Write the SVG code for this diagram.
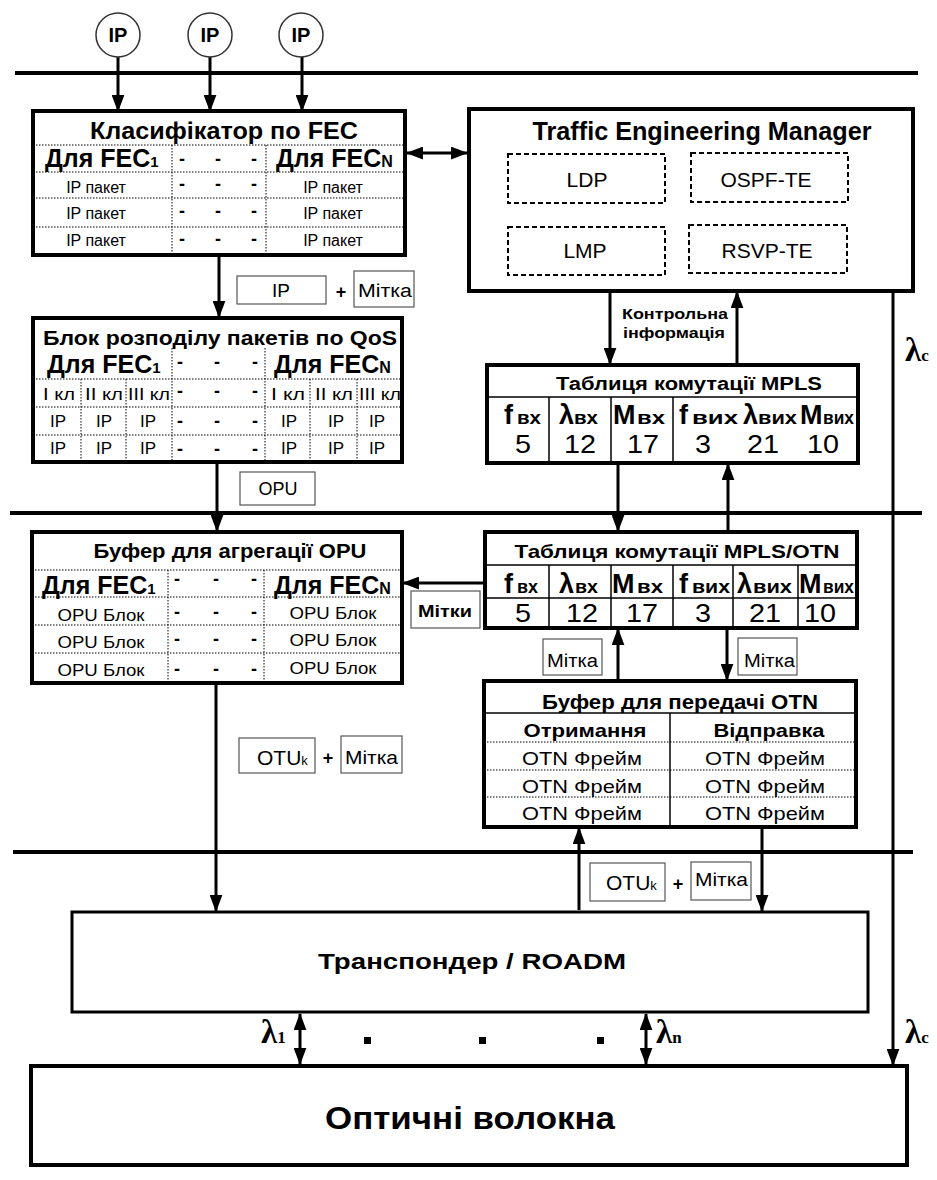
<svg xmlns="http://www.w3.org/2000/svg" width="937" height="1180" viewBox="0 0 937 1180">
<defs>
<marker id="ah" viewBox="0 0 16 12" refX="15" refY="6" markerWidth="17" markerHeight="13" markerUnits="userSpaceOnUse" orient="auto-start-reverse"><path d="M0,0 L16,6 L0,12 z" fill="#000"/></marker>
</defs>
<style>
.t{font-family:"Liberation Sans",Arial,sans-serif;fill:#000}
.b{font-weight:bold}
.c{text-anchor:middle}
.blk{fill:#fff;stroke:none}
.fr{fill:none;stroke:#000;stroke-width:4}
.dt{stroke:#000;stroke-width:1;stroke-dasharray:1.5 1.5;fill:none}
.sl{stroke:#000;stroke-width:1.5;fill:none}
.dash{fill:#fff;stroke:#000;stroke-width:2;stroke-dasharray:5 3}
.bus{stroke:#000;stroke-width:4}
.ar{stroke:#000;stroke-width:3;fill:none;marker-end:url(#ah)}
.ar2{stroke:#000;stroke-width:3;fill:none;marker-end:url(#ah);marker-start:url(#ah)}
.lb{fill:#fff;stroke:#555;stroke-width:1.2}
.lam{font-family:"Liberation Serif","Times New Roman",serif;font-weight:bold;fill:#000}
.ip{fill:#fff;stroke:#333;stroke-width:1.5}
.fec{font-family:"Liberation Sans",Arial,sans-serif;font-weight:bold;font-size:25px;fill:#000}
.hm{font-family:"Liberation Sans",Arial,sans-serif;font-weight:bold;font-size:27px;fill:#000}
.hs{font-family:"Liberation Sans",Arial,sans-serif;font-weight:bold;font-size:18px;fill:#000}
.num{font-family:"Liberation Sans",Arial,sans-serif;font-size:25px;text-anchor:middle;fill:#000}
</style>
<rect width="937" height="1180" fill="#fff"/>

<g id="buses">
<line class="bus" x1="15" y1="73" x2="918" y2="73"/>
<line class="bus" x1="10" y1="513" x2="922" y2="513"/>
<line class="bus" x1="13" y1="852" x2="913" y2="852"/>
</g>

<g id="connectors">
<line class="ar" x1="118" y1="57" x2="118" y2="111"/>
<line class="ar" x1="210" y1="57" x2="210" y2="111"/>
<line class="ar" x1="302" y1="57" x2="302" y2="111"/>
<line class="ar2" x1="407" y1="153" x2="467" y2="153"/>
<line class="ar" x1="219" y1="257" x2="219" y2="317"/>
<line class="ar" x1="217" y1="464" x2="217" y2="531"/>
<line class="ar" x1="216" y1="685" x2="216" y2="911"/>
<line class="ar" x1="610" y1="293" x2="610" y2="364"/>
<line class="ar" x1="737" y1="363" x2="737" y2="292"/>
<line class="ar" x1="618" y1="465" x2="618" y2="531"/>
<line class="ar" x1="728" y1="530" x2="728" y2="464"/>
<line class="ar" x1="485" y1="583" x2="403" y2="583"/>
<line class="ar" x1="618" y1="679" x2="618" y2="629"/>
<line class="ar" x1="727" y1="630" x2="727" y2="680"/>
<line class="ar" x1="579" y1="910" x2="579" y2="828"/>
<line class="ar" x1="762" y1="829" x2="762" y2="911"/>
<line class="ar" x1="893" y1="293" x2="893" y2="1065"/>
<line class="ar2" x1="300" y1="1014" x2="300" y2="1064"/>
<line class="ar2" x1="646" y1="1014" x2="646" y2="1064"/>
</g>

<g id="ip1"><circle class="ip" cx="118" cy="35" r="22"/><text class="t b c" x="118" y="42" font-size="20">IP</text></g>
<g id="ip2"><circle class="ip" cx="210" cy="35" r="22"/><text class="t b c" x="210" y="42" font-size="20">IP</text></g>
<g id="ip3"><circle class="ip" cx="301" cy="35" r="22"/><text class="t b c" x="301" y="42" font-size="20">IP</text></g>

<g id="classifier">
<rect class="blk" x="33" y="111" width="372" height="144"/>
<text class="t b c" x="224" y="139" font-size="24" textLength="268" lengthAdjust="spacingAndGlyphs">Класифікатор по FEC</text>
<line class="dt" x1="33" y1="145" x2="405" y2="145"/>
<line class="dt" x1="33" y1="172" x2="405" y2="172"/>
<line class="dt" x1="33" y1="198" x2="405" y2="198"/>
<line class="dt" x1="33" y1="227" x2="405" y2="227"/>
<line class="dt" x1="172" y1="145" x2="172" y2="255"/>
<line class="dt" x1="266" y1="145" x2="266" y2="255"/>
<text class="fec" x="45" y="167">Для FEC<tspan font-size="15">1</tspan></text>
<text class="fec" x="276" y="167">Для FEC<tspan font-size="16">N</tspan></text>
<g class="t b c" font-size="18">
<text x="182" y="165">-</text><text x="218" y="165">-</text><text x="254" y="165">-</text>
<text x="182" y="190">-</text><text x="218" y="190">-</text><text x="254" y="190">-</text>
<text x="182" y="217">-</text><text x="218" y="217">-</text><text x="254" y="217">-</text>
<text x="182" y="245">-</text><text x="218" y="245">-</text><text x="254" y="245">-</text>
</g>
<g class="t c" font-size="16">
<text x="96" y="193">IP пакет</text><text x="333" y="193">IP пакет</text>
<text x="96" y="219">IP пакет</text><text x="333" y="219">IP пакет</text>
<text x="96" y="246">IP пакет</text><text x="333" y="246">IP пакет</text>
</g>
<rect class="fr" x="33" y="111" width="372" height="144"/>
</g>

<g id="tem">
<rect class="blk" x="469" y="109" width="444" height="182"/>
<text class="t b c" x="702" y="140" font-size="25" textLength="339" lengthAdjust="spacingAndGlyphs">Traffic Engineering Manager</text>
<rect class="dash" x="508" y="154" width="157" height="49"/>
<rect class="dash" x="691" y="153" width="157" height="49"/>
<rect class="dash" x="508" y="227" width="157" height="48"/>
<rect class="dash" x="689" y="225" width="158" height="48"/>
<g class="t c" font-size="21">
<text x="587" y="187">LDP</text>
<text x="766" y="187">OSPF-TE</text>
<text x="585" y="258">LMP</text>
<text x="767" y="258">RSVP-TE</text>
</g>
<rect class="fr" x="469" y="109" width="444" height="182"/>
</g>

<g id="ctrl-label" class="t b" font-size="15">
<text x="622" y="319" textLength="106" lengthAdjust="spacingAndGlyphs">Контрольна</text>
<text x="623" y="338" textLength="102" lengthAdjust="spacingAndGlyphs">інформація</text>
</g>

<g id="lbl-ip">
<rect class="lb" x="237" y="276" width="89" height="28"/>
<text class="t c" x="281" y="297" font-size="19">IP</text>
<text class="t b c" x="341" y="298" font-size="18">+</text>
<rect class="lb" x="354" y="271" width="60" height="36"/>
<text class="t" x="358" y="297" font-size="18" textLength="54" lengthAdjust="spacingAndGlyphs">Мітка</text>
</g>

<g id="qos">
<rect class="blk" x="33" y="318" width="369" height="144"/>
<text class="t b" x="43" y="345" font-size="21" textLength="354" lengthAdjust="spacingAndGlyphs">Блок розподілу пакетів по QoS</text>
<line class="dt" x1="33" y1="379" x2="402" y2="379"/>
<line class="dt" x1="33" y1="407" x2="402" y2="407"/>
<line class="dt" x1="33" y1="435" x2="402" y2="435"/>
<line class="dt" x1="172" y1="348" x2="172" y2="462"/>
<line class="dt" x1="265" y1="348" x2="265" y2="462"/>
<line class="dt" x1="81" y1="379" x2="81" y2="462"/>
<line class="dt" x1="126" y1="379" x2="126" y2="462"/>
<line class="dt" x1="310" y1="379" x2="310" y2="462"/>
<line class="dt" x1="357" y1="379" x2="357" y2="462"/>
<text class="fec" x="47" y="373">Для FEC<tspan font-size="15">1</tspan></text>
<text class="fec" x="274" y="373">Для FEC<tspan font-size="16">N</tspan></text>
<g class="t b c" font-size="18">
<text x="180" y="368">-</text><text x="217" y="368">-</text><text x="255" y="368">-</text>
<text x="180" y="397">-</text><text x="217" y="397">-</text><text x="255" y="397">-</text>
<text x="180" y="427">-</text><text x="217" y="427">-</text><text x="255" y="427">-</text>
<text x="180" y="455">-</text><text x="217" y="455">-</text><text x="255" y="455">-</text>
</g>
<g class="t c" font-size="17">
<text x="59" y="400" textLength="32" lengthAdjust="spacingAndGlyphs">І кл</text>
<text x="104" y="400" textLength="38" lengthAdjust="spacingAndGlyphs">ІІ кл</text>
<text x="149" y="400" textLength="42" lengthAdjust="spacingAndGlyphs">ІІІ кл</text>
<text x="288" y="400" textLength="34" lengthAdjust="spacingAndGlyphs">І кл</text>
<text x="334" y="400" textLength="38" lengthAdjust="spacingAndGlyphs">ІІ кл</text>
<text x="380" y="400" textLength="42" lengthAdjust="spacingAndGlyphs">ІІІ кл</text>
<text x="58" y="427">IP</text><text x="104" y="427">IP</text><text x="148" y="427">IP</text>
<text x="289" y="427">IP</text><text x="336" y="427">IP</text><text x="377" y="427">IP</text>
<text x="58" y="454">IP</text><text x="104" y="454">IP</text><text x="148" y="454">IP</text>
<text x="289" y="454">IP</text><text x="336" y="454">IP</text><text x="377" y="454">IP</text>
</g>
<rect class="fr" x="33" y="318" width="369" height="144"/>
</g>

<g id="lbl-opu">
<rect class="lb" x="240" y="472" width="75" height="33"/>
<text class="t c" x="278" y="495" font-size="18">OPU</text>
</g>

<g id="mpls">
<rect class="blk" x="487" y="365" width="371" height="98"/>
<text class="t b c" x="689" y="390" font-size="18" textLength="266" lengthAdjust="spacingAndGlyphs">Таблиця комутації MPLS</text>
<line class="sl" x1="487" y1="397" x2="858" y2="397"/>
<line class="sl" x1="549" y1="397" x2="549" y2="463" stroke-width="1"/>
<line class="sl" x1="611" y1="397" x2="611" y2="463" stroke-width="1"/>
<line class="sl" x1="673" y1="397" x2="673" y2="463" stroke-width="3"/>
<text class="hm" x="504" y="424">f</text><text class="hs" x="517" y="424" textLength="24" lengthAdjust="spacingAndGlyphs">вх</text>
<text class="hm" x="559" y="424">λ</text><text class="hs" x="574" y="424" textLength="24" lengthAdjust="spacingAndGlyphs">вх</text>
<text class="hm" x="613" y="424">M</text><text class="hs" x="637" y="424" textLength="28" lengthAdjust="spacingAndGlyphs">вх</text>
<text class="hm" x="679" y="424">f</text><text class="hs" x="692" y="424" textLength="46" lengthAdjust="spacingAndGlyphs">вих</text>
<text class="hm" x="743" y="424">λ</text><text class="hs" x="758" y="424" textLength="39" lengthAdjust="spacingAndGlyphs">вих</text>
<text class="hm" x="800" y="424">M</text><text class="hs" x="823" y="424" textLength="31" lengthAdjust="spacingAndGlyphs">вих</text>
<text class="num" x="523" y="453" textLength="16" lengthAdjust="spacingAndGlyphs">5</text>
<text class="num" x="580" y="453" textLength="32" lengthAdjust="spacingAndGlyphs">12</text>
<text class="num" x="643" y="453" textLength="32" lengthAdjust="spacingAndGlyphs">17</text>
<text class="num" x="703" y="453" textLength="16" lengthAdjust="spacingAndGlyphs">3</text>
<text class="num" x="763" y="453" textLength="32" lengthAdjust="spacingAndGlyphs">21</text>
<text class="num" x="823" y="453" textLength="32" lengthAdjust="spacingAndGlyphs">10</text>
<rect class="fr" x="487" y="365" width="371" height="98"/>
</g>

<g id="opu-buffer">
<rect class="blk" x="32" y="532" width="370" height="151"/>
<text class="t b c" x="230" y="558" font-size="21" textLength="273" lengthAdjust="spacingAndGlyphs">Буфер для агрегації OPU</text>
<line class="dt" x1="32" y1="570" x2="402" y2="570"/>
<line class="dt" x1="32" y1="597" x2="402" y2="597"/>
<line class="dt" x1="32" y1="625" x2="402" y2="625"/>
<line class="dt" x1="32" y1="653" x2="402" y2="653"/>
<line class="dt" x1="168" y1="570" x2="168" y2="683"/>
<line class="dt" x1="264" y1="570" x2="264" y2="683"/>
<text class="fec" x="42" y="594">Для FEC<tspan font-size="15">1</tspan></text>
<text class="fec" x="274" y="594">Для FEC<tspan font-size="16">N</tspan></text>
<g class="t b c" font-size="18">
<text x="177" y="585">-</text><text x="216" y="585">-</text><text x="254" y="585">-</text>
<text x="177" y="618">-</text><text x="216" y="618">-</text><text x="254" y="618">-</text>
<text x="177" y="645">-</text><text x="216" y="645">-</text><text x="254" y="645">-</text>
<text x="177" y="675">-</text><text x="216" y="675">-</text><text x="254" y="675">-</text>
</g>
<g class="t c" font-size="17">
<text x="101" y="621" textLength="87" lengthAdjust="spacingAndGlyphs">OPU Блок</text>
<text x="333" y="619" textLength="87" lengthAdjust="spacingAndGlyphs">OPU Блок</text>
<text x="101" y="648" textLength="87" lengthAdjust="spacingAndGlyphs">OPU Блок</text>
<text x="333" y="646" textLength="87" lengthAdjust="spacingAndGlyphs">OPU Блок</text>
<text x="101" y="676" textLength="87" lengthAdjust="spacingAndGlyphs">OPU Блок</text>
<text x="333" y="674" textLength="87" lengthAdjust="spacingAndGlyphs">OPU Блок</text>
</g>
<rect class="fr" x="32" y="532" width="370" height="151"/>
</g>

<g id="lbl-mitky">
<rect class="lb" x="411" y="591" width="69" height="37"/>
<text class="t b" x="418" y="617" font-size="17" textLength="54" lengthAdjust="spacingAndGlyphs">Мітки</text>
</g>

<g id="mpls-otn">
<rect class="blk" x="485" y="532" width="372" height="96"/>
<text class="t b c" x="677" y="558" font-size="19" textLength="325" lengthAdjust="spacingAndGlyphs">Таблиця  комутації MPLS/OTN</text>
<line class="sl" x1="485" y1="565" x2="857" y2="565" stroke-width="2"/>
<line class="sl" x1="485" y1="598" x2="857" y2="598" stroke-width="2"/>
<line class="sl" x1="549" y1="565" x2="549" y2="628" stroke-width="1"/>
<line class="sl" x1="611" y1="565" x2="611" y2="628" stroke-width="1"/>
<line class="sl" x1="673" y1="565" x2="673" y2="628" stroke-width="3"/>
<line class="sl" x1="733" y1="565" x2="733" y2="628" stroke-width="1"/>
<line class="sl" x1="798" y1="565" x2="798" y2="628" stroke-width="1"/>
<text class="hm" x="504" y="593">f</text><text class="hs" x="517" y="593" textLength="21" lengthAdjust="spacingAndGlyphs">вх</text>
<text class="hm" x="559" y="593">λ</text><text class="hs" x="575" y="593" textLength="23" lengthAdjust="spacingAndGlyphs">вх</text>
<text class="hm" x="612" y="593">M</text><text class="hs" x="637" y="593" textLength="26" lengthAdjust="spacingAndGlyphs">вх</text>
<text class="hm" x="679" y="593">f</text><text class="hs" x="692" y="593" textLength="38" lengthAdjust="spacingAndGlyphs">вих</text>
<text class="hm" x="737" y="593">λ</text><text class="hs" x="753" y="593" textLength="39" lengthAdjust="spacingAndGlyphs">вих</text>
<text class="hm" x="799" y="593">M</text><text class="hs" x="823" y="593" textLength="31" lengthAdjust="spacingAndGlyphs">вих</text>
<text class="num" x="523" y="622" textLength="16" lengthAdjust="spacingAndGlyphs">5</text>
<text class="num" x="582" y="622" textLength="32" lengthAdjust="spacingAndGlyphs">12</text>
<text class="num" x="642" y="622" textLength="32" lengthAdjust="spacingAndGlyphs">17</text>
<text class="num" x="703" y="622" textLength="16" lengthAdjust="spacingAndGlyphs">3</text>
<text class="num" x="765" y="622" textLength="32" lengthAdjust="spacingAndGlyphs">21</text>
<text class="num" x="820" y="622" textLength="32" lengthAdjust="spacingAndGlyphs">10</text>
<rect class="fr" x="485" y="532" width="372" height="96"/>
</g>

<g id="lbl-mitka-mid">
<rect class="lb" x="543" y="639" width="59" height="36"/>
<text class="t" x="547" y="667" font-size="18" textLength="51" lengthAdjust="spacingAndGlyphs">Мітка</text>
<rect class="lb" x="738" y="638" width="59" height="37"/>
<text class="t" x="744" y="667" font-size="18" textLength="51" lengthAdjust="spacingAndGlyphs">Мітка</text>
</g>

<g id="otn-buffer">
<rect class="blk" x="484" y="681" width="372" height="146"/>
<text class="t b c" x="680" y="709" font-size="21" textLength="276" lengthAdjust="spacingAndGlyphs">Буфер для передачі OTN</text>
<line class="sl" x1="484" y1="713" x2="856" y2="713" stroke-width="1"/>
<line class="sl" x1="670" y1="713" x2="670" y2="827" stroke-width="1"/>
<line class="dt" x1="484" y1="742" x2="856" y2="742"/>
<line class="dt" x1="484" y1="770" x2="856" y2="770"/>
<line class="dt" x1="484" y1="797" x2="856" y2="797"/>
<text class="t b c" x="585" y="737" font-size="19" textLength="123" lengthAdjust="spacingAndGlyphs">Отримання</text>
<text class="t b c" x="769" y="737" font-size="19" textLength="111" lengthAdjust="spacingAndGlyphs">Відправка</text>
<g class="t c" font-size="19">
<text x="582" y="765" textLength="120" lengthAdjust="spacingAndGlyphs">OTN Фрейм</text>
<text x="765" y="765" textLength="120" lengthAdjust="spacingAndGlyphs">OTN Фрейм</text>
<text x="582" y="793" textLength="120" lengthAdjust="spacingAndGlyphs">OTN Фрейм</text>
<text x="765" y="793" textLength="120" lengthAdjust="spacingAndGlyphs">OTN Фрейм</text>
<text x="582" y="820" textLength="120" lengthAdjust="spacingAndGlyphs">OTN Фрейм</text>
<text x="765" y="820" textLength="120" lengthAdjust="spacingAndGlyphs">OTN Фрейм</text>
</g>
<rect class="fr" x="484" y="681" width="372" height="146"/>
</g>

<g id="lbl-otuk-left">
<rect class="lb" x="239" y="738" width="76" height="35"/>
<text class="t" x="257" y="765" font-size="21">OTU<tspan font-size="13">k</tspan></text>
<text class="t b c" x="328" y="764" font-size="18">+</text>
<rect class="lb" x="341" y="736" width="61" height="37"/>
<text class="t" x="345" y="764" font-size="18" textLength="53" lengthAdjust="spacingAndGlyphs">Мітка</text>
</g>

<g id="lbl-otuk-right">
<rect class="lb" x="590" y="863" width="75" height="38"/>
<text class="t" x="606" y="890" font-size="21">OTU<tspan font-size="13">k</tspan></text>
<text class="t b c" x="678" y="890" font-size="18">+</text>
<rect class="lb" x="691" y="862" width="60" height="38"/>
<text class="t" x="695" y="886" font-size="18" textLength="53" lengthAdjust="spacingAndGlyphs">Мітка</text>
</g>

<g id="transponder">
<rect x="72" y="912" width="796" height="100" fill="#fff" stroke="#000" stroke-width="3"/>
<text class="t b c" x="472" y="969" font-size="22" textLength="308" lengthAdjust="spacingAndGlyphs">Транспондер / ROADM</text>
</g>

<g id="fiber">
<rect x="31" y="1066" width="876" height="99" fill="#fff" stroke="#000" stroke-width="4"/>
<text class="t b c" x="470" y="1129" font-size="31" textLength="290" lengthAdjust="spacingAndGlyphs">Оптичні волокна</text>
</g>

<g id="wavelengths">
<rect x="364" y="1037" width="7" height="7" fill="#000"/>
<rect x="479" y="1037" width="7" height="7" fill="#000"/>
<rect x="597" y="1037" width="7" height="7" fill="#000"/>
<text class="lam" x="261" y="1043" font-size="33">λ<tspan font-size="17">1</tspan></text>
<text class="lam" x="656" y="1043" font-size="33">λ<tspan font-size="17">n</tspan></text>
<text class="lam" x="905" y="1043" font-size="33">λ<tspan font-size="17">c</tspan></text>
<text class="lam" x="905" y="361" font-size="33">λ<tspan font-size="17">c</tspan></text>
</g>
</svg>
